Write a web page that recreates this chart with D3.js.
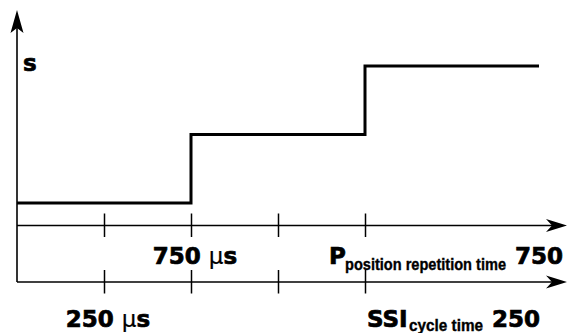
<!DOCTYPE html>
<html>
<head>
<meta charset="utf-8">
<script src="https://cdn.jsdelivr.net/npm/d3@7"></script>
<style>
  html, body { margin: 0; padding: 0; background: #fff; }
  svg { display: block; }
  .big { font-family: "DejaVu Sans", sans-serif; font-weight: bold; font-size: 23px; stroke: #000; stroke-width: 0.7px; }
  .mu { font-family: "DejaVu Sans", sans-serif; font-weight: normal; font-size: 23px; stroke: #000; stroke-width: 0.2px; }
  .sub { font-family: "Liberation Sans", Arial, sans-serif; font-weight: bold; font-size: 16px; stroke: #000; stroke-width: 0.35px; }
</style>
</head>
<body>
<script>
// ---- data ----
const stepTimes  = [0, 2, 4, 6];      // time units (one unit = one tick interval)
const stepLevels = [1, 2, 3, 3];      // position value levels
const tickValues = [1, 2, 3, 4];
const axisNames  = ["P", "SSI"];
const axisSubs   = ["position repetition time", "cycle time"];
const axisTotals = ["750", "250"];
const tickLabels = ["750 ", "250 "];
const tickLabelAt = [2, 1];
const yLabel = "s";

const W = 568, H = 333;
const svg = d3.select("body").append("svg").attr("width", W).attr("height", H);

const x = d3.scaleLinear().domain([0, 6]).range([17, 539]);
const y = d3.scaleLinear().domain([1, 3]).range([203, 66]);
const rowY = d3.scaleOrdinal().domain(axisNames).range([225.5, 282]);
const labelDy = d3.scaleOrdinal().domain(axisNames).range([38.5, 44.5]);
const arrowEnd = 567;

function hArrow(g, x0, x1, yy) {
  g.append("line").attr("x1", x0).attr("x2", x1 - 10).attr("y1", yy).attr("y2", yy)
    .attr("stroke", "#000").attr("stroke-width", 1.6);
  g.append("path")
    .attr("d", `M${x1},${yy} L${x1 - 21},${yy - 6.5} L${x1 - 15},${yy} L${x1 - 21},${yy + 6.5} Z`)
    .attr("fill", "#000");
}

// y axis
svg.append("line").attr("x1", x(0)).attr("x2", x(0)).attr("y1", rowY("SSI")).attr("y2", 26)
  .attr("stroke", "#000").attr("stroke-width", 1.6);
svg.append("path")
  .attr("d", `M${x(0)},10 L${x(0) - 6.5},33 L${x(0)},28 L${x(0) + 6.5},33 Z`)
  .attr("fill", "#000");
svg.append("text").attr("class", "big").attr("x", x(0) + 6).attr("y", 71).text(yLabel);

// horizontal time axes
axisNames.forEach((name, i) => {
  const yy = rowY(name);
  const g = svg.append("g");
  hArrow(g, x(0), arrowEnd, yy);
  const ax = svg.append("g").attr("transform", `translate(0,${yy})`)
    .call(d3.axisBottom(x).tickValues(tickValues).tickSize(12).tickFormat(""));
  ax.select(".domain").remove();
  ax.selectAll(".tick line").attr("y1", -12).attr("y2", 11.5)
    .attr("stroke", "#000").attr("stroke-width", 1.5);

  // tick label (e.g. 750 µs)
  const t = svg.append("text").attr("x", x(tickLabelAt[i]) + 4).attr("y", yy + labelDy(name))
    .attr("text-anchor", "middle");
  t.append("tspan").attr("class", "big").text(tickLabels[i]);
  t.append("tspan").attr("class", "mu").text("\u03BC");
  t.append("tspan").attr("class", "big").text("s");
});

// P position repetition time 750
{
  const yy = rowY("P");
  svg.append("text").attr("class", "big").attr("x", x(4) - 36).attr("y", yy + labelDy("P")).text(axisNames[0]);
  svg.append("text").attr("class", "sub").attr("x", x(4) - 20).attr("y", yy + 44.5)
    .attr("textLength", 161).attr("lengthAdjust", "spacingAndGlyphs").text(axisSubs[0]);
  svg.append("text").attr("class", "big").attr("x", arrowEnd - 4).attr("y", yy + labelDy("P"))
    .attr("text-anchor", "end").text(axisTotals[0]);
}
// SSI cycle time 250
{
  const yy = rowY("SSI");
  svg.append("text").attr("class", "big").attr("x", x(4) + 2).attr("y", yy + labelDy("SSI")).text(axisNames[1]);
  svg.append("text").attr("class", "sub").attr("x", x(4) + 44).attr("y", yy + 49)
    .attr("textLength", 74).attr("lengthAdjust", "spacingAndGlyphs").text(axisSubs[1]);
  svg.append("text").attr("class", "big").attr("x", x(6) + 1).attr("y", yy + labelDy("SSI"))
    .attr("text-anchor", "end").text(axisTotals[1]);
}

// step signal
const pts = stepTimes.map((t, i) => [t, stepLevels[i]]);
const line = d3.line().x(d => x(d[0])).y(d => y(d[1])).curve(d3.curveStepAfter);
svg.append("path").attr("d", line(pts)).attr("fill", "none")
  .attr("stroke", "#000").attr("stroke-width", 3).attr("stroke-linejoin", "miter");
</script>
</body>
</html>
